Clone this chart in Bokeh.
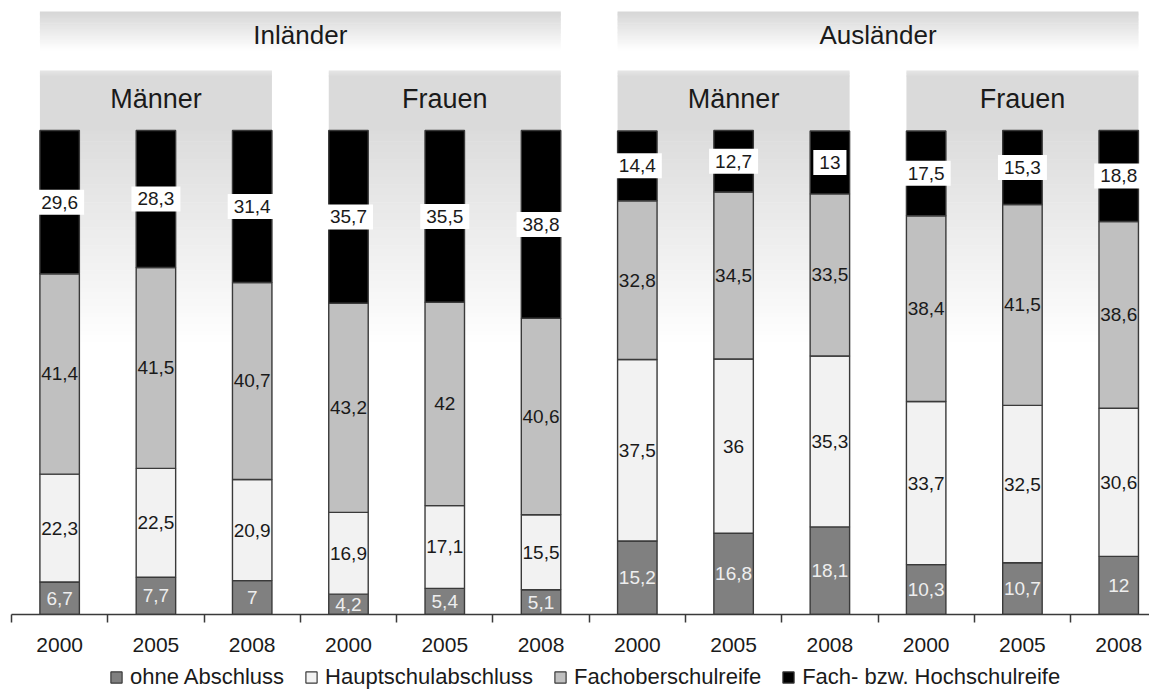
import numpy as np
from bokeh.plotting import figure
from bokeh.layouts import column
from bokeh.models import ColumnDataSource, FixedTicker, Legend, LegendItem, Range1d
from bokeh.core.properties import value
from bokeh.embed import file_html
from bokeh.resources import INLINE

# ---------------- data ----------------
origins = ["Inländer", "Ausländer"]
sexes = ["Männer", "Frauen"]
years = ["2000", "2005", "2008"]
series = ["ohne Abschluss", "Hauptschulabschluss", "Fachoberschulreife", "Fach- bzw. Hochschulreife"]

ohne = [6.7, 7.7, 7, 4.2, 5.4, 5.1, 15.2, 16.8, 18.1, 10.3, 10.7, 12]
haupt = [22.3, 22.5, 20.9, 16.9, 17.1, 15.5, 37.5, 36, 35.3, 33.7, 32.5, 30.6]
fachober = [41.4, 41.5, 40.7, 43.2, 42, 40.6, 32.8, 34.5, 33.5, 38.4, 41.5, 38.6]
hoch = [29.6, 28.3, 31.4, 35.7, 35.5, 38.8, 14.4, 12.7, 13, 17.5, 15.3, 18.8]

# ---------------- styles / layout ----------------
colors = ["#808080", "#f2f2f2", "#c0c0c0", "#000000"]
label_colors = ["#eeeeee", "#1a1a1a", "#1a1a1a", "#1a1a1a"]
FONT = "Liberation Sans"
TOP, LEFT = 8, 11
FRAME_W, FRAME_H = 1138, 606
PX_X = 96.28
PX_Y = 4.84
BASE_PAGE = TOP + FRAME_H
BW = 0.41


def yd(py):
    return (BASE_PAGE - py) / PX_Y


n = len(ohne)
xs = [i + 0.5 for i in range(n)]

p = figure(frame_width=FRAME_W, frame_height=FRAME_H, output_backend="svg",
           toolbar_location=None, x_range=Range1d(0, FRAME_W / PX_X),
           y_range=Range1d(0, FRAME_H / PX_Y), y_axis_location=None,
           min_border_left=LEFT, min_border_right=0, min_border_top=TOP,
           min_border_bottom=0)
p.grid.visible = False
p.outline_line_color = None
p.background_fill_color = "white"
p.border_fill_color = "white"


def gray(t, c0, c1):
    v = int(round(c0 + (c1 - c0) * t))
    return "#%02x%02x%02x" % (v, v, v)


def gradient(left, right, top_py, bot_py, c0, c1, steps):
    edges = np.linspace(top_py, bot_py, steps + 1)
    tops = [yd(e) for e in edges[:-1]]
    bots = [yd(min(e + 0.6, bot_py)) for e in edges[1:]]
    cols = [gray((k + 0.5) / steps, c0, c1) for k in range(steps)]
    p.quad(left=[left] * steps, right=[right] * steps, top=tops, bottom=bots,
           fill_color=cols, line_color=None)


# top headers (Inländer / Ausländer)
for g, name in enumerate(origins):
    left = g * 6 + 0.5 - BW / 2
    right = g * 6 + 5.5 + BW / 2
    gradient(left, right, 11, 50, 0xd6, 0xff, 30)
    p.text(x=[(left + right) / 2], y=[yd(34)], text=[name], text_align="center",
           text_baseline="middle", text_font=value(FONT), text_font_size="26px",
           text_color="#1a1a1a")

# sub headers (Männer / Frauen)
for g in range(4):
    left = g * 3 + 0.5 - BW / 2
    right = g * 3 + 2.5 + BW / 2
    gradient(left, right, 70, 76, 0xe6, 0xda, 4)
    p.quad(left=[left], right=[right], top=[yd(75.5)], bottom=[yd(130.5)],
           fill_color="#dadada", line_color=None)
    gradient(left, right, 130, 345, 0xdc, 0xff, 60)
    p.text(x=[(left + right) / 2], y=[yd(98)], text=[sexes[g % 2]], text_align="center",
           text_baseline="middle", text_font=value(FONT), text_font_size="27px",
           text_color="#1a1a1a")

# stacked bars
src = ColumnDataSource(dict(x=xs, s0=ohne, s1=haupt, s2=fachober, s3=hoch))
stackers = ["s0", "s1", "s2", "s3"]
rends = p.vbar_stack(stackers, x="x", width=BW, source=src,
                     fill_color=colors, line_color="#3a3a3a", line_width=1.4)

# value labels
vals = [ohne, haupt, fachober, hoch]
cum = np.zeros(n)
for k, arr in enumerate(vals):
    arr = np.array(arr, dtype=float)
    mids = cum + arr / 2
    cum = cum + arr
    txt = [f"{v:g}".replace(".", ",") for v in arr]
    kw = dict(x=xs, y=list(mids), text=txt, text_align="center", text_baseline="middle",
              text_font=value(FONT), text_font_size="19px", text_color=label_colors[k])
    if k == 3:
        kw.update(background_fill_color="white", padding=6)
    p.text(**kw)

# axis
ax = p.xaxis[0]
ax.ticker = FixedTicker(ticks=xs, minor_ticks=list(range(n + 1)))
ax.major_label_overrides = {x: years[i % 3] for i, x in enumerate(xs)}
ax.axis_line_color = "#3a3a3a"
ax.axis_line_width = 1.5
ax.major_tick_line_color = None
ax.major_tick_out = 8
ax.major_tick_in = 0
ax.minor_tick_line_color = "#3a3a3a"
ax.minor_tick_line_width = 1.5
ax.minor_tick_out = 8
ax.minor_tick_in = 0
ax.major_label_standoff = 15
ax.major_label_text_font = FONT
ax.major_label_text_font_size = "21px"
ax.major_label_text_color = "#1a1a1a"

# legend strip (separate small figure below; its square markers lie outside its view)
lg = figure(width=LEFT + FRAME_W, height=38, output_backend="svg", toolbar_location=None,
            x_range=Range1d(-30, -29), y_range=Range1d(-30, -29),
            x_axis_location=None, y_axis_location=None,
            min_border_left=0, min_border_right=0, min_border_top=0, min_border_bottom=0)
lg.grid.visible = False
lg.outline_line_color = None
lg_rends = [lg.scatter(x="x", y=s, source=src, marker="square", size=11,
                       fill_color=c, line_color="#3a3a3a", line_width=1.2)
            for s, c in zip(stackers, colors)]
legend = Legend(items=[LegendItem(label=s, renderers=[r]) for s, r in zip(series, lg_rends)],
                orientation="horizontal", location=(91, 1), spacing=13,
                glyph_width=28, glyph_height=28, label_standoff=0, padding=0, margin=0,
                label_height=20,
                label_text_font=FONT, label_text_font_size="22px", label_text_color="#1a1a1a",
                border_line_color=None, background_fill_alpha=0)
lg.add_layout(legend, "center")

layout = column(p, lg, spacing=0)
open("out.html", "w").write(file_html(layout, INLINE))
